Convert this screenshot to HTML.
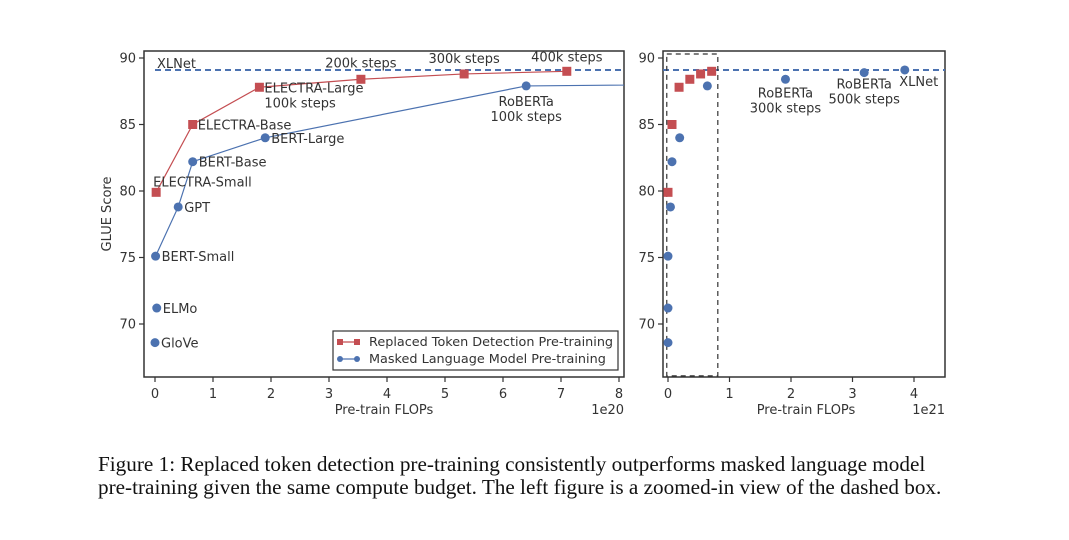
<!DOCTYPE html>
<html><head><meta charset="utf-8"><style>
body{margin:0;background:#fff;width:1069px;height:540px;overflow:hidden}
svg text{font-family:"DejaVu Sans","Liberation Sans",sans-serif;fill:#333}
.cap{position:absolute;left:98px;top:453px;font-family:"Liberation Serif",serif;font-size:21.2px;line-height:23px;color:#111;width:960px;white-space:nowrap}
</style></head><body>
<svg id="chart" width="1069" height="540" style="position:absolute;left:0;top:0"></svg>
<div class="cap">Figure 1: Replaced token detection pre-training consistently outperforms masked language model<br>pre-training given the same compute budget. The left figure is a zoomed-in view of the dashed box.</div>
<script>
const redX=[0.02,0.65,1.8,3.55,5.33,7.1];
const redY=[79.9,85.0,87.8,88.4,88.8,89.0];
const redLabels=["ELECTRA-Small","ELECTRA-Base","ELECTRA-Large\n100k steps","200k steps","300k steps","400k steps"];
const blueX=[0.01,0.4,0.65,1.9,6.4,19.1];
const blueY=[75.1,78.8,82.2,84.0,87.9,88.4];
const blueLabels=["BERT-Small","GPT","BERT-Base","BERT-Large","RoBERTa\n100k steps",""];
const otherX=[0.03,0.0];
const otherY=[71.2,68.6];
const otherLabels=["ELMo","GloVe"];
const xlnet=89.1;
const rBlueX=[0,0,0,0.04,0.065,0.19,0.64,1.91,3.19,3.85];
const rBlueY=[68.6,71.2,75.1,78.8,82.2,84.0,87.9,88.4,88.9,89.1];
const rRedX=[0.0,0.065,0.18,0.355,0.53,0.71];
const rRedY=[79.9,85.0,87.8,88.4,88.8,89.0];
const yTicks=[70,75,80,85,90];
const lxTicks=[0,1,2,3,4,5,6,7,8];
const rxTicks=[0,1,2,3,4];
const RED="#c44e52",BLUE="#4c72b0";
const svg=document.getElementById('chart');
const NS="http://www.w3.org/2000/svg";
function el(t,a,p){const e=document.createElementNS(NS,t);for(const k in a)e.setAttribute(k,a[k]);(p||svg).appendChild(e);return e;}
function txt(s,x,y,a,p){const lines=s.split("\n");const t=el('text',Object.assign({x:x,y:y,'font-size':13},a),p);lines.forEach((l,i)=>{const ts=el('tspan',{x:x,dy:i?15:0},t);ts.textContent=l;});return t;}
const yS=v=>58+(90-v)*13.3;
const lx=v=>155+v*58, rx=v=>668+v*61.5;
const L={x0:144,x1:624}, R={x0:663,x1:945}, yT=51, yB=377;
const defs=el('defs',{});const cp=el('clipPath',{id:'cl'},defs);el('rect',{x:L.x0,y:yT,width:L.x1-L.x0,height:yB-yT},cp);
const cp2=el('clipPath',{id:'cr'},defs);el('rect',{x:R.x0,y:yT,width:R.x1-R.x0,height:yB-yT},cp2);
function axes(P,xs,ticks,name){
  for(const t of yTicks){const y=yS(t);el('line',{x1:P.x0-5,x2:P.x0,y1:y,y2:y,stroke:'#333','stroke-width':1.2});
    const tt=txt(String(t),P.x0-8,y+4.5,{'text-anchor':'end'});}
  for(const t of ticks){const x=xs(t);el('line',{x1:x,x2:x,y1:yB,y2:yB+5,stroke:'#333','stroke-width':1.2});
    const tt=txt(String(t),x,yB+21,{'text-anchor':'middle'});}
  const r=el('rect',{x:P.x0,y:yT,width:P.x1-P.x0,height:yB-yT,fill:'none',stroke:'#333','stroke-width':1.5});
  
  const xl=txt('Pre-train FLOPs',(P.x0+P.x1)/2-(name==='left'?0:-2),yB+37,{'text-anchor':'middle'});
  
}
axes(L,lx,lxTicks,'left');axes(R,rx,rxTicks,'right');
let t=txt('1e20',L.x1,yB+37,{'text-anchor':'end'});
t=txt('1e21',R.x1,yB+37,{'text-anchor':'end'});
t=txt('GLUE Score',0,0,{transform:`translate(111,${(yT+yB)/2}) rotate(-90)`,'text-anchor':'middle'});
const gl=el('g',{'clip-path':'url(#cl)'});
let d=el('line',{x1:lx(0),x2:L.x1,y1:yS(xlnet),y2:yS(xlnet),stroke:BLUE,'stroke-width':2,'stroke-dasharray':'6,4'},gl);

let p=el('polyline',{points:blueX.map((x,i)=>lx(x)+','+yS(blueY[i])).join(' '),fill:'none',stroke:BLUE,'stroke-width':1.2},gl);

p=el('polyline',{points:redX.map((x,i)=>lx(x)+','+yS(redY[i])).join(' '),fill:'none',stroke:RED,'stroke-width':1.2},gl);

blueX.forEach((x,i)=>{const c=el('circle',{cx:lx(x),cy:yS(blueY[i]),r:4.5,fill:BLUE},gl);});
otherX.forEach((x,i)=>{const c=el('circle',{cx:lx(x),cy:yS(otherY[i]),r:4.5,fill:BLUE},gl);});
redX.forEach((x,i)=>{const r=el('rect',{x:lx(x)-4.5,y:yS(redY[i])-4.5,width:9,height:9,fill:RED},gl);});
t=txt('XLNet',157,68);
const redOff=[[-3,-6,'start'],[5,5,'start'],[5,5,'start'],[0,-12,'middle'],[0,-11,'middle'],[0,-10,'middle']];
redX.forEach((x,i)=>{const o=redOff[i];const tt=txt(redLabels[i],lx(x)+o[0],yS(redY[i])+o[1],{'text-anchor':o[2]});});
blueX.forEach((x,i)=>{if(!blueLabels[i])return;const mid=i===4;const tt=txt(blueLabels[i],lx(x)+(mid?0:6),yS(blueY[i])+(mid?20:5),{'text-anchor':mid?'middle':'start'});});
otherX.forEach((x,i)=>{const tt=txt(otherLabels[i],lx(x)+6,yS(otherY[i])+5);});
const lg=el('g',{});
el('rect',{x:333,y:331,width:285,height:39,fill:'#fff',stroke:'#333','stroke-width':1.2},lg);
el('line',{x1:340,x2:357,y1:342,y2:342,stroke:RED,'stroke-width':1.2},lg);
el('rect',{x:337,y:339,width:6,height:6,fill:RED},lg);el('rect',{x:354,y:339,width:6,height:6,fill:RED},lg);
el('line',{x1:340,x2:357,y1:359,y2:359,stroke:BLUE,'stroke-width':1.2},lg);
el('circle',{cx:340,cy:359,r:3,fill:BLUE},lg);el('circle',{cx:357,cy:359,r:3,fill:BLUE},lg);
t=txt('Replaced Token Detection Pre-training',369,346,{'font-size':12.8},lg);
t=txt('Masked Language Model Pre-training',369,363,{'font-size':12.8},lg);
const gr=el('g',{'clip-path':'url(#cr)'});
d=el('line',{x1:R.x0,x2:R.x1,y1:yS(xlnet),y2:yS(xlnet),stroke:BLUE,'stroke-width':2,'stroke-dasharray':'6,4'},gr);

const bx=el('rect',{x:rx(-0.02),y:yS(90.3),width:rx(0.81)-rx(-0.02),height:yS(66.1)-yS(90.3),fill:'none',stroke:'#333','stroke-width':1.2,'stroke-dasharray':'5,4'},gr);

rBlueX.forEach((x,i)=>{const c=el('circle',{cx:rx(x),cy:yS(rBlueY[i]),r:4.5,fill:BLUE},gr);});
rRedX.forEach((x,i)=>{const r=el('rect',{x:rx(x)-4.5,y:yS(rRedY[i])-4.5,width:9,height:9,fill:RED},gr);});
t=txt('RoBERTa\n300k steps',rx(1.91),yS(88.4)+18,{'text-anchor':'middle'});
t=txt('RoBERTa\n500k steps',rx(3.19),yS(88.9)+16,{'text-anchor':'middle'});
t=txt('XLNet',rx(3.85)+14,yS(89.1)+16,{'text-anchor':'middle'});
</script>
</body></html>
